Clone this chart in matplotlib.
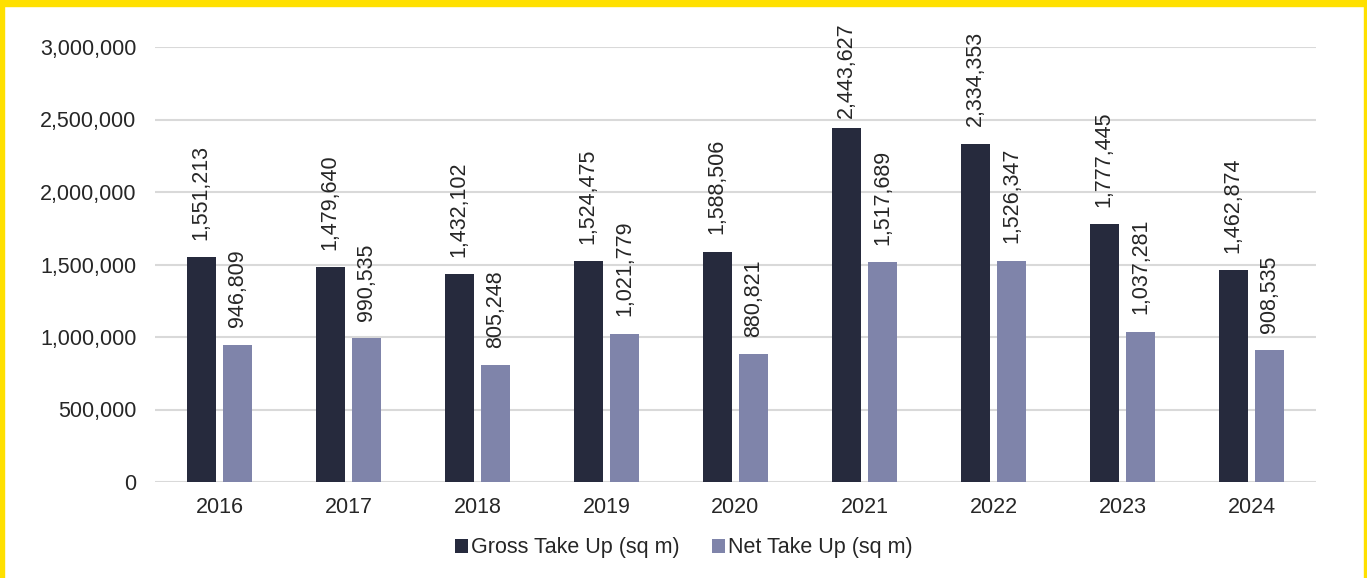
import matplotlib
matplotlib.use("Agg")
import matplotlib.pyplot as plt
from matplotlib.patches import Rectangle
from matplotlib.ticker import FuncFormatter
import numpy as np

years = ["2016", "2017", "2018", "2019", "2020", "2021", "2022", "2023", "2024"]
gross = [1551213, 1479640, 1432102, 1524475, 1588506, 2443627, 2334353, 1777445, 1462874]
net = [946809, 990535, 805248, 1021779, 880821, 1517689, 1526347, 1037281, 908535]
series_names = ["Gross Take Up (sq m)", "Net Take Up (sq m)"]
yticks = [0, 500000, 1000000, 1500000, 2000000, 2500000, 3000000]

plt.rcParams['font.family'] = ['Liberation Sans', 'DejaVu Sans']
W, H = 1367, 578
FS = 15.5
TXT = "#262626"
fig = plt.figure(figsize=(W / 100, H / 100), dpi=100)
ax = fig.add_axes([155 / W, 1 - 482 / H, (1316 - 155) / W, (482 - 47) / H])

x = np.arange(len(years))
w = 0.225
off = 0.143
c_gross = "#262A3D"
c_net = "#7F84AA"
b1 = ax.bar(x - off, gross, w, color=c_gross, label=series_names[0], zorder=3)
b2 = ax.bar(x + off, net, w, color=c_net, label=series_names[1], zorder=3)

labels = []
for bars, vals in ((b1, gross), (b2, net)):
    for r, v in zip(bars, vals):
        a = ax.annotate(f"{v:,}", (r.get_x() + r.get_width() / 2, v), xytext=(0, 12.5),
                        textcoords="offset points", rotation=90, ha="center", va="bottom",
                        fontsize=FS, color=TXT, annotation_clip=False)
        labels.append(a)

ax.set_xlim(-0.5, len(years) - 0.5)
ax.set_ylim(0, 3000000)
ax.set_yticks(yticks)
ax.yaxis.set_major_formatter(FuncFormatter(lambda v, p: f"{int(v):,}"))
ax.set_xticks(x)
ax.set_xticklabels(years)
ax.tick_params(axis="both", length=0, labelsize=FS, labelcolor=TXT)
ax.tick_params(axis="y", pad=13.5)
ax.tick_params(axis="x", pad=11)
for s in ax.spines.values():
    s.set_visible(False)
ax.grid(axis="y", color="#D9D9D9", linewidth=1.5, zorder=0)
ax.set_axisbelow(True)

# keep labels inside the chart area (push down any that overflow the top)
fig.canvas.draw()
r_ = fig.canvas.get_renderer()
top_limit = H - 22
for a in labels:
    bb = a.get_window_extent(r_)
    if bb.y1 > top_limit:
        shift_pt = (bb.y1 - top_limit) * 72 / 100
        xt = a.xyann
        a.xyann = (xt[0], xt[1] - shift_pt)

leg = fig.legend(handles=[b1, b2], labels=series_names, loc="center", bbox_to_anchor=(0.5, 1 - 548 / H),
                 ncol=2, frameon=False, fontsize=FS, handlelength=0.6, handleheight=0.6,
                 handletextpad=0.15, columnspacing=1.5)
for t in leg.get_texts():
    t.set_color(TXT)

yellow = "#FFE000"
fig.patches.append(Rectangle((0, 1 - 6 / H), 1, 6 / H, transform=fig.transFigure, color=yellow, zorder=10))
fig.patches.append(Rectangle((0, 0), 4 / W, 1, transform=fig.transFigure, color=yellow, zorder=10))
fig.patches.append(Rectangle((1 - 3 / W, 0), 3 / W, 1, transform=fig.transFigure, color=yellow, zorder=10))

fig.savefig("out.png", dpi=100, facecolor="white")
